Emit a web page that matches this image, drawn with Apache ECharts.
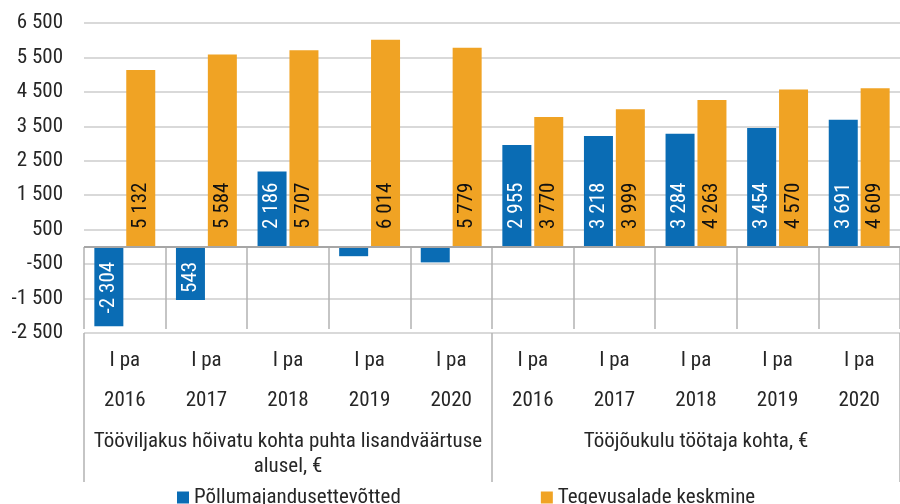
<!DOCTYPE html>
<html>
<head>
<meta charset="utf-8">
<script src="https://cdn.jsdelivr.net/npm/echarts@6/dist/echarts.min.js"></script>
<style>
  html, body { margin: 0; padding: 0; background: #fff; }
  #chart { width: 900px; height: 504px; }
</style>
</head>
<body>
<div id="chart"></div>
<script>
// andmed
const periods = ["I pa\n2016", "I pa\n2017", "I pa\n2018", "I pa\n2019", "I pa\n2020",
                 "I pa\n2016", "I pa\n2017", "I pa\n2018", "I pa\n2019", "I pa\n2020"];
const groups = ["Tööviljakus hõivatu kohta puhta lisandväärtuse\nalusel, €", "Tööjõukulu töötaja kohta, €"];

const farmValues = [-2304, -1543, 2186, -270, -450, 2955, 3218, 3284, 3454, 3691];
const farmLabels = ["-2 304", "543", "2 186", "", "", "2 955", "3 218", "3 284", "3 454", "3 691"];

const avgValues = [5132, 5584, 5707, 6014, 5779, 3770, 3999, 4263, 4570, 4609];
const avgLabels = ["5 132", "5 584", "5 707", "6 014", "5 779", "3 770", "3 999", "4 263", "4 570", "4 609"];

const seriesNames = ["Põllumajandusettevõtted", "Tegevusalade keskmine"];

const FONT = "'Roboto Condensed', 'Liberation Sans Narrow', Roboto, sans-serif";
const FS = 21;
const TXT = "#262626";
const BLUE = "#0a6cb4";
const ORANGE = "#f0a324";

function fmt(v) {
  const s = String(Math.abs(v)).replace(/\B(?=(\d{3})+(?!\d))/g, " ");
  return v < 0 ? "-" + s : s;
}

// silt iga tulba jaoks (negatiivsetel ülevalt alla)
function barData(values, labels, color) {
  return values.map((v, i) => ({
    value: v,
    label: {
      show: labels[i] !== "",
      formatter: labels[i],
      position: v < 0 ? "insideTop" : "insideBottom",
      align: v < 0 ? "right" : "left",
      verticalAlign: "middle",
      rotate: 90,
      distance: v < 0 ? 15 : 18,
      color: color,
      fontSize: FS,
      fontFamily: FONT
    }
  }));
}

const chart = echarts.init(document.getElementById("chart"));
chart.setOption({
  animation: false,
  legend: {
    data: seriesNames,
    left: 172,
    top: 482,
    icon: "rect",
    itemWidth: 12,
    itemHeight: 12,
    itemGap: 140,
    textStyle: { color: TXT, fontSize: FS, fontFamily: FONT }
  },
  grid: { left: 84, width: 825, top: 23, bottom: 171 },
  xAxis: [
    {
      type: "category",
      position: "bottom",
      data: periods,
      axisLine: { show: false },
      axisTick: { show: true, interval: 0, length: 82, lineStyle: { color: "#b3b3b3", width: 1.5 } },
      axisLabel: {
        interval: 0,
        margin: 8,
        verticalAlign: "top",
        lineHeight: 40,
        color: TXT,
        fontSize: FS,
        fontFamily: FONT
      }
    },
    {
      type: "category",
      position: "bottom",
      data: groups,
      axisLine: { show: false },
      axisTick: { show: true, interval: 0, length: 149, lineStyle: { color: "#b3b3b3", width: 1.5 } },
      axisLabel: {
        interval: 0,
        margin: 96,
        verticalAlign: "top",
        lineHeight: 25,
        color: TXT,
        fontSize: FS,
        fontFamily: FONT
      }
    }
  ],
  yAxis: {
    type: "value",
    min: -2500,
    max: 6500,
    interval: 1000,
    axisLine: { show: false },
    axisTick: { show: false },
    splitLine: { lineStyle: { color: "#d9d9d9", width: 2 } },
    axisLabel: {
      margin: 21,
      color: TXT,
      fontSize: FS,
      fontFamily: FONT,
      formatter: fmt
    }
  },
  series: [
    {
      name: seriesNames[0],
      type: "bar",
      barWidth: 29,
      barGap: "10%",
      itemStyle: { color: BLUE },
      data: barData(farmValues, farmLabels, "#ffffff"),
      markLine: {
        silent: true,
        symbol: "none",
        label: { show: false },
        lineStyle: { color: "#a6a6a6", width: 2, type: "solid" },
        data: [{ yAxis: 0 }]
      }
    },
    {
      name: seriesNames[1],
      type: "bar",
      barWidth: 29,
      barGap: "10%",
      itemStyle: { color: ORANGE },
      data: barData(avgValues, avgLabels, "#111111")
    }
  ]
});
</script>
</body>
</html>
